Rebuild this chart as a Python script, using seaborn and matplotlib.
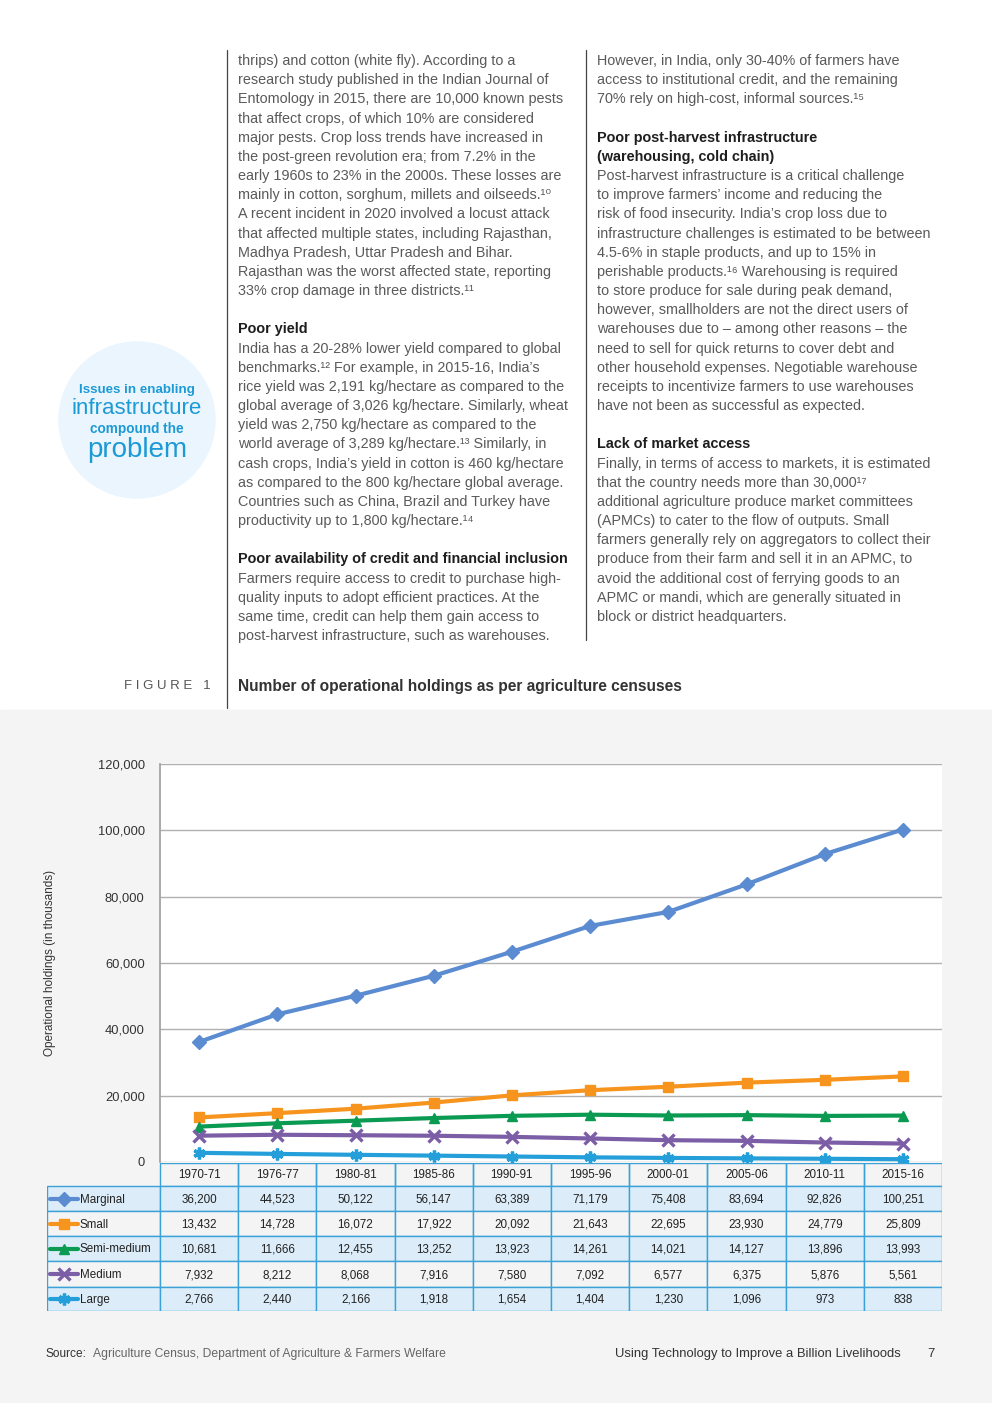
import matplotlib
matplotlib.use("Agg")
import matplotlib.pyplot as plt
import pandas as pd
import seaborn as sns
from matplotlib.patches import Circle, Rectangle

sns.set_theme(style="white")
plt.rcParams["font.family"] = ["Liberation Sans", "DejaVu Sans"]

# ---- chart data (thousands of operational holdings) ----
censuses = ["1970-71", "1976-77", "1980-81", "1985-86", "1990-91",
            "1995-96", "2000-01", "2005-06", "2010-11", "2015-16"]
marginal = [36200, 44523, 50122, 56147, 63389, 71179, 75408, 83694, 92826, 100251]
small = [13432, 14728, 16072, 17922, 20092, 21643, 22695, 23930, 24779, 25809]
semi_medium = [10681, 11666, 12455, 13252, 13923, 14261, 14021, 14127, 13896, 13993]
medium = [7932, 8212, 8068, 7916, 7580, 7092, 6577, 6375, 5876, 5561]
large = [2766, 2440, 2166, 1918, 1654, 1404, 1230, 1096, 973, 838]

size_classes = ["Marginal", "Small", "Semi-medium", "Medium", "Large"]
y_ticks = [0, 20000, 40000, 60000, 80000, 100000, 120000]

colors = {"Marginal": "#5b8bd1", "Small": "#f7941d", "Semi-medium": "#0b9a52",
          "Medium": "#7b5ea6", "Large": "#259fd9"}
markers = {"Marginal": "D", "Small": "s", "Semi-medium": "^", "Medium": "x", "Large": (6, 2, 0)}
row_fill = {"Marginal": "#dcedf9", "Small": "#f4f4f4", "Semi-medium": "#dcedf9",
            "Medium": "#f4f4f4", "Large": "#dcedf9"}

df = pd.DataFrame({"census": censuses, "Marginal": marginal, "Small": small,
                   "Semi-medium": semi_medium, "Medium": medium, "Large": large})
long = df.melt(id_vars="census", var_name="size", value_name="holdings")
long["pos"] = long["census"].map({c: i for i, c in enumerate(censuses)})

# ---- page text ----
left_col = [
    "thrips) and cotton (white fly). According to a",
    "research study published in the Indian Journal of",
    "Entomology in 2015, there are 10,000 known pests",
    "that affect crops, of which 10% are considered",
    "major pests. Crop loss trends have increased in",
    "the post-green revolution era; from 7.2% in the",
    "early 1960s to 23% in the 2000s. These losses are",
    "mainly in cotton, sorghum, millets and oilseeds.\u00b9\u2070",
    "A recent incident in 2020 involved a locust attack",
    "that affected multiple states, including Rajasthan,",
    "Madhya Pradesh, Uttar Pradesh and Bihar.",
    "Rajasthan was the worst affected state, reporting",
    "33% crop damage in three districts.\u00b9\u00b9",
    "",
    "#Poor yield",
    "India has a 20-28% lower yield compared to global",
    "benchmarks.\u00b9\u00b2 For example, in 2015-16, India\u2019s",
    "rice yield was 2,191 kg/hectare as compared to the",
    "global average of 3,026 kg/hectare. Similarly, wheat",
    "yield was 2,750 kg/hectare as compared to the",
    "world average of 3,289 kg/hectare.\u00b9\u00b3 Similarly, in",
    "cash crops, India\u2019s yield in cotton is 460 kg/hectare",
    "as compared to the 800 kg/hectare global average.",
    "Countries such as China, Brazil and Turkey have",
    "productivity up to 1,800 kg/hectare.\u00b9\u2074",
    "",
    "#Poor availability of credit and financial inclusion",
    "Farmers require access to credit to purchase high-",
    "quality inputs to adopt efficient practices. At the",
    "same time, credit can help them gain access to",
    "post-harvest infrastructure, such as warehouses.",
]
right_col = [
    "However, in India, only 30-40% of farmers have",
    "access to institutional credit, and the remaining",
    "70% rely on high-cost, informal sources.\u00b9\u2075",
    "",
    "#Poor post-harvest infrastructure",
    "#(warehousing, cold chain)",
    "Post-harvest infrastructure is a critical challenge",
    "to improve farmers\u2019 income and reducing the",
    "risk of food insecurity. India\u2019s crop loss due to",
    "infrastructure challenges is estimated to be between",
    "4.5-6% in staple products, and up to 15% in",
    "perishable products.\u00b9\u2076 Warehousing is required",
    "to store produce for sale during peak demand,",
    "however, smallholders are not the direct users of",
    "warehouses due to \u2013 among other reasons \u2013 the",
    "need to sell for quick returns to cover debt and",
    "other household expenses. Negotiable warehouse",
    "receipts to incentivize farmers to use warehouses",
    "have not been as successful as expected.",
    "",
    "#Lack of market access",
    "Finally, in terms of access to markets, it is estimated",
    "that the country needs more than 30,000\u00b9\u2077",
    "additional agriculture produce market committees",
    "(APMCs) to cater to the flow of outputs. Small",
    "farmers generally rely on aggregators to collect their",
    "produce from their farm and sell it in an APMC, to",
    "avoid the additional cost of ferrying goods to an",
    "APMC or mandi, which are generally situated in",
    "block or district headquarters.",
]

W, H = 992, 1403
fig = plt.figure(figsize=(W / 100, H / 100), dpi=100)
fig.patch.set_facecolor("white")

page = fig.add_axes([0, 0, 1, 1])
page.set_xlim(0, W)
page.set_ylim(H, 0)
page.axis("off")
page.add_patch(Rectangle((0, 710), W, H - 710, color="#f4f4f4", zorder=0))
page.plot([227, 227], [50, 708], color="#444444", lw=0.9)
page.plot([586, 586], [50, 640], color="#444444", lw=0.9)

line_h = 19.17
for col_x, lines in [(238, left_col), (597, right_col)]:
    for i, txt in enumerate(lines):
        if not txt:
            continue
        bold = txt.startswith("#")
        page.text(col_x, 61 + i * line_h, txt.lstrip("#"), fontsize=10.4,
                  va="center", ha="left",
                  color="#1e1e1e" if bold else "#5a5a5a",
                  fontweight="bold" if bold else "normal")

# call-out circle
page.add_patch(Circle((137, 420), 78, color="#ebf5fd", zorder=1))
blue = "#1c9ad6"
page.text(137, 390, "Issues in enabling", fontsize=9.6, fontweight="bold", color=blue, ha="center", va="center")
page.text(137, 409, "infrastructure", fontsize=16, color=blue, ha="center", va="center")
page.text(137, 429, "compound the", fontsize=9.8, fontweight="bold", color=blue, ha="center", va="center")
page.text(137, 450, "problem", fontsize=20, color=blue, ha="center", va="center")

page.text(124, 686, "F I G U R E   1", fontsize=9.5, color="#555555", va="center")
page.text(238, 686, "Number of operational holdings as per agriculture censuses",
          fontsize=11.2, fontweight="bold", color="#333333", va="center")

page.text(46, 1354, "Source:", fontsize=8.6, color="#333333", va="center")
page.text(93, 1354, "Agriculture Census, Department of Agriculture & Farmers Welfare",
          fontsize=8.7, color="#666666", va="center")
page.text(615, 1354, "Using Technology to Improve a Billion Livelihoods",
          fontsize=9.4, color="#333333", va="center")
page.text(927, 1354, "7", fontsize=9.4, color="#333333", va="center")

# ---- line chart ----
ax_l, ax_r, ax_t, ax_b = 160, 942, 764, 1162
ax = fig.add_axes([ax_l / W, 1 - ax_b / H, (ax_r - ax_l) / W, (ax_b - ax_t) / H])
ax.set_facecolor("white")
for name in size_classes:
    sub = long[long["size"] == name]
    filled = name not in ("Medium", "Large")
    sns.lineplot(data=sub, x="pos", y="holdings", ax=ax, color=colors[name],
                 marker=markers[name], markersize=7.5 if filled else 8.5,
                 mec=colors[name], mew=1 if filled else 2.4, lw=3, zorder=3)
ax.set_xlim(-0.5, len(censuses) - 0.5)
ax.set_ylim(0, 120000)
ax.set_yticks(y_ticks)
ax.set_yticklabels([f"{v:,}" for v in y_ticks])
ax.set_xticks([])
ax.set_xlabel("")
ax.grid(axis="y", color="#b0b0b0", lw=1)
ax.tick_params(axis="y", length=0, pad=11, labelsize=9.3, labelcolor="#333333")
for side in ["top", "right", "bottom"]:
    ax.spines[side].set_visible(False)
ax.spines["left"].set_color("#a0a0a0")
ax.set_ylabel("Operational holdings (in thousands)", fontsize=8.5, color="#333333")
ax.yaxis.set_label_coords((56 - ax_l) / (ax_r - ax_l), 0.5)

# ---- data table under the chart ----
step = (ax_r - ax_l) / len(censuses)
tab_l, tab_t, tab_b = 47, 1163, 1311
tax = fig.add_axes([tab_l / W, 1 - tab_b / H, (ax_r - tab_l) / W, (tab_b - tab_t) / H])
x_left = -0.5 - (ax_l - tab_l) / step
tax.set_xlim(x_left, len(censuses) - 0.5)
row_edges = [0, 23, 48, 73, 98, 124, 148]
tax.set_ylim(row_edges[-1], 0)
tax.axis("off")
edge = "#3ba1d6"
tfs = 8.4

for j, c in enumerate(censuses):
    tax.add_patch(Rectangle((j - 0.5, 0), 1, row_edges[1], fill=False, ec=edge, lw=1))
    tax.text(j, row_edges[1] / 2, c, ha="center", va="center", fontsize=tfs, color="#222222")

for r, name in enumerate(size_classes):
    y0, y1 = row_edges[r + 1], row_edges[r + 2]
    yc = (y0 + y1) / 2
    tax.add_patch(Rectangle((x_left, y0), -0.5 - x_left, y1 - y0, fc=row_fill[name], ec=edge, lw=1))
    for j, v in enumerate(df[name]):
        tax.add_patch(Rectangle((j - 0.5, y0), 1, y1 - y0, fc=row_fill[name], ec=edge, lw=1))
        tax.text(j, yc + 1, f"{v:,}", ha="center", va="center", fontsize=tfs, color="#222222")
    filled = name not in ("Medium", "Large")
    xs = [x_left + 3 / step, x_left + 17 / step, x_left + 31 / step]
    tax.plot(xs, [yc] * 3, color=colors[name], lw=3, marker=markers[name],
             markevery=[1], markersize=7.5 if filled else 8.5, mec=colors[name],
             mew=1 if filled else 2.4)
    tax.text(x_left + 33 / step, yc + 1, name, ha="left", va="center", fontsize=tfs, color="#222222")

fig.savefig("out.png", dpi=100, facecolor=fig.get_facecolor())
